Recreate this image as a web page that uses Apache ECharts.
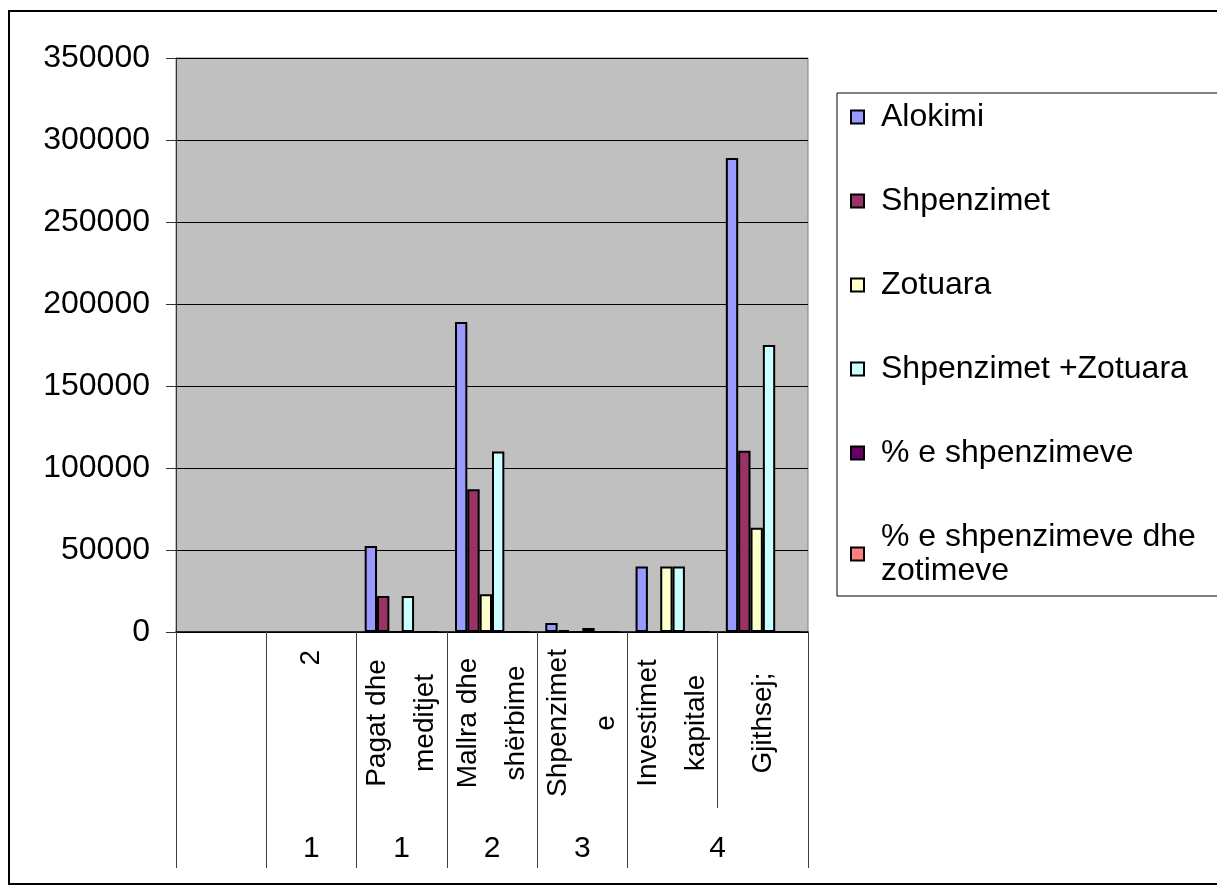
<!DOCTYPE html>
<html>
<head>
<meta charset="utf-8">
<script src="https://cdn.jsdelivr.net/npm/echarts@6/dist/echarts.min.js"></script>
<style>
  html, body { margin: 0; padding: 0; background: #ffffff; }
  #chart { width: 1217px; height: 895px; }
</style>
</head>
<body>
<div id="chart"></div>
<script>
// ---- data ----
const categories = ['', '2', 'Pagat dhe meditjet', 'Mallra dhe shërbime', 'Shpenzimet e', 'Investimet kapitale', 'Gjithsej;'];
const groupLabels = ['1', '1', '2', '3', '4'];
const groupFirst = [1, 2, 3, 4, 5];
const groupLast  = [1, 2, 3, 4, 6];
const seriesNames = ['Alokimi', 'Shpenzimet', 'Zotuara', 'Shpenzimet +Zotuara', '% e shpenzimeve', '% e shpenzimeve dhe zotimeve'];
const alokimi    = [null, null, 52500, 189000, 5500, 40000, 289000];
const shpenzimet = [null, null, 22000, 87000, 1200, 0, 110500];
const zotuara    = [null, null, 0, 23000, 0, 40000, 63500];
const shpZot     = [null, null, 22000, 110000, 2500, 40000, 175000];
const pctShp     = [null, null, 0, 0, 0, 0, 0];
const pctShpZot  = [null, null, 0, 0, 0, 0, 0];
const yTicks = [0, 50000, 100000, 150000, 200000, 250000, 300000, 350000];

const seriesData = [alokimi, shpenzimet, zotuara, shpZot, pctShp, pctShpZot];
const colors = ['#9999FF', '#993366', '#FFFFCC', '#CCFFFF', '#660066', '#FF8080'];
const FONT = '"Liberation Sans", Arial, sans-serif';

// second-level axis positions derived from the groups
const groupCenters = groupFirst.map((f, i) => (f + groupLast[i] + 1) / 2);
const groupTicks = [0];
groupFirst.forEach((f, i) => {
  if (groupTicks.indexOf(f) < 0) groupTicks.push(f);
  if (groupTicks.indexOf(groupLast[i] + 1) < 0) groupTicks.push(groupLast[i] + 1);
});

const chart = echarts.init(document.getElementById('chart'), null, { renderer: 'canvas' });

const option = {
  animation: false,
  backgroundColor: '#ffffff',
  grid: {
    left: 176, right: 409, top: 58, bottom: 263,
    show: true, backgroundColor: '#C0C0C0', borderColor: '#808080', borderWidth: 1,
    containLabel: false, outerBoundsMode: 'none'
  },
  legend: {
    orient: 'vertical',
    left: 837, top: 93,
    icon: 'rect',
    itemWidth: 13, itemHeight: 13,
    itemGap: 50,
    padding: [7, 80, 8, 13],
    borderColor: '#000', borderWidth: 1,
    backgroundColor: '#ffffff',
    selectedMode: false,
    textStyle: { fontFamily: FONT, fontSize: 32, color: '#000', lineHeight: 34, padding: [0, 0, 0, 12] },
    formatter: function (name) {
      if (name.length > 20) {
        const i = name.lastIndexOf(' ');
        return name.slice(0, i) + '\n' + name.slice(i + 1);
      }
      return name;
    },
    data: seriesNames
  },
  xAxis: [
    {
      type: 'category',
      data: categories,
      boundaryGap: true,
      axisLine: { show: true, lineStyle: { color: '#000', width: 1.5 } },
      axisTick: { show: true, interval: 0, length: 176, lineStyle: { color: '#404040', width: 1 } },
      axisLabel: {
        interval: 0, rotate: 90, margin: 18, color: '#000',
        fontFamily: FONT, fontSize: 28,
        formatter: function (v) {
          if (!v) return '';
          const numeric = !isNaN(Number(v));
          const i = v.lastIndexOf(' ');
          const txt = (numeric || i < 0) ? v : v.slice(0, i) + '\n' + v.slice(i + 1);
          return '{' + (numeric ? 'r' : 'c') + '|' + txt + '}';
        },
        rich: {
          c: { width: 146, align: 'center', lineHeight: 48, fontFamily: FONT, fontSize: 28, color: '#000' },
          r: { width: 146, align: 'right', lineHeight: 48, fontFamily: FONT, fontSize: 28, color: '#000' }
        }
      },
      splitLine: { show: false }
    },
    {
      type: 'value',
      gridIndex: 0,
      position: 'bottom',
      offset: 176,
      min: 0, max: 7,
      axisLine: { show: false },
      splitLine: { show: false },
      axisTick: { show: true, length: 60, customValues: groupTicks, lineStyle: { color: '#404040', width: 1 } },
      axisLabel: {
        customValues: groupCenters,
        margin: 26, color: '#000', fontFamily: FONT, fontSize: 30,
        formatter: function (val) {
          const k = groupCenters.indexOf(val);
          return k >= 0 ? groupLabels[k] : '';
        }
      }
    }
  ],
  yAxis: {
    type: 'value',
    min: yTicks[0], max: yTicks[yTicks.length - 1], interval: yTicks[1] - yTicks[0],
    axisLine: { show: true, lineStyle: { color: '#333', width: 1 } },
    axisTick: { show: true, length: 10, lineStyle: { color: '#333', width: 1 } },
    axisLabel: {
      margin: 26, color: '#000', fontFamily: FONT, fontSize: 32,
      formatter: function (v) { return String(v); }
    },
    splitLine: { show: true, lineStyle: { color: '#000', width: 1 } }
  },
  series: seriesNames.map((name, i) => ({
    name: name,
    type: 'bar',
    xAxisIndex: 0,
    data: seriesData[i],
    barGap: '0%',
    barCategoryGap: '18%',
    itemStyle: { color: colors[i], borderColor: '#000', borderWidth: 2 },
    emphasis: { disabled: true }
  })),
  graphic: [
    {
      type: 'rect', z: 100, silent: true,
      shape: { x: 9, y: 11, width: 1260, height: 873 },
      style: { fill: 'none', stroke: '#000', lineWidth: 2 }
    }
  ]
};

chart.setOption(option);
</script>
</body>
</html>
